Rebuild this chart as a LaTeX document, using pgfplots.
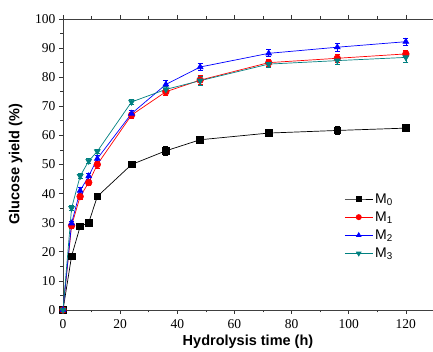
\documentclass[border=0pt]{standalone}
\usepackage{fontspec}
\setmainfont{Liberation Serif}
\setsansfont{Liberation Sans}
\usepackage{pgfplots}
\pgfplotsset{compat=1.18}
\definecolor{mteal}{RGB}{0,128,128}
\begin{document}
\begin{tikzpicture}
\begin{axis}[
  scale only axis,
  width=370pt, height=291pt,
  xmin=0, xmax=129.5, ymin=0, ymax=100,
  axis y line*=left,
  axis x line=box,
  axis line style={black!75, line width=0.9pt},
  xtick={0,20,40,60,80,100,120},
  ytick={0,10,...,100},
  minor x tick num=1,
  minor y tick num=1,
  tick align=outside,
  tick style={black!80, line width=0.7pt},
  major tick length=4pt,
  minor tick length=2.5pt,
  /pgf/number format/assume math mode=true,
  ticklabel style={font=\fontsize{13.5}{15}\selectfont},
  xticklabel style={yshift=-2pt},
  xlabel={\sffamily\bfseries Hydrolysis time (h)},
  ylabel={\sffamily\bfseries Glucose yield (\%)},
  label style={font=\fontsize{14.5}{16}\selectfont},
  xlabel style={yshift=1pt},
  ylabel style={yshift=6pt},
  legend style={draw=none, fill=none, at={(0.76,0.415)}, anchor=north west,
    font=\sffamily\fontsize{14}{16}\selectfont, row sep=3pt, inner xsep=0pt},
  legend cell align=left,
  legend image code/.code={\draw[mark repeat=2, mark phase=2, mark size=2.6pt]
    plot coordinates {(0pt,0pt) (14pt,0pt) (28pt,0pt)};},
  every axis plot/.append style={line width=0.7pt, mark size=3.3pt},
  error bars/error bar style={line width=0.7pt},
  error bars/error mark options={rotate=90, mark size=2.5pt, line width=0.7pt},
]
\addplot[black, mark=square*, error bars/.cd, y dir=both, y explicit] table[x=x, y=y, y error=e] {
x y e
0 0 0
3 18.5 0.6
6 28.7 0.7
9 30.0 0.6
12 39.0 0.6
24 50.0 0.6
36 54.7 1.4
48 58.5 0.7
72 60.8 1.3
96 61.7 1.5
120 62.5 1.0
};
\addlegendentry{M\textsubscript{0}}
\addplot[red, mark=*, error bars/.cd, y dir=both, y explicit] table[x=x, y=y, y error=e] {
x y e
0 0 0
3 29.0 0.8
6 39.0 1.0
9 43.8 1.0
12 50.0 1.2
24 67.0 1.0
36 75.0 1.2
48 79.0 1.5
72 85.0 1.2
96 86.5 1.5
120 88.0 1.3
};
\addlegendentry{M\textsubscript{1}}
\addplot[blue, mark=triangle*, error bars/.cd, y dir=both, y explicit] table[x=x, y=y, y error=e] {
x y e
0 0 0
3 29.8 0.8
6 41.0 1.0
9 46.0 1.0
12 52.0 1.2
24 67.5 1.0
36 77.5 1.3
48 83.5 1.2
72 88.2 1.2
96 90.3 1.3
120 92.2 1.3
};
\addlegendentry{M\textsubscript{2}}
\addplot[mteal, mark=triangle*, mark options={rotate=180}, error bars/.cd, y dir=both, y explicit] table[x=x, y=y, y error=e] {
x y e
0 0 0
3 35.0 0.8
6 46.0 0.8
9 51.2 0.8
12 54.5 0.8
24 71.5 1.0
36 75.8 1.2
48 78.8 1.5
72 84.5 1.2
96 85.7 1.3
120 86.8 1.6
};
\addlegendentry{M\textsubscript{3}}
\end{axis}
\pgfresetboundingbox
\path[use as bounding box] (current axis.south west) ++(-63pt,-42pt) rectangle ([yshift=19pt]current axis.north east);
\end{tikzpicture}
\end{document}
